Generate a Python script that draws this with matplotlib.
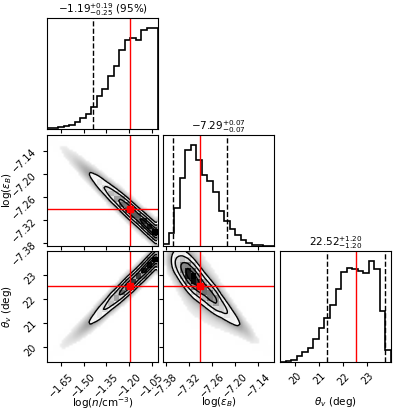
import numpy as np
import matplotlib
matplotlib.use("Agg")
import matplotlib.pyplot as plt
from matplotlib.colors import LinearSegmentedColormap

# axis ranges (min / max of the samples)
logn_range = [-1.7425, -1.008]
epsb_range = [-7.387, -7.099]
theta_range = [19.37, 23.99]

logn_ticks = [-1.65, -1.50, -1.35, -1.20, -1.05]
epsb_ticks = [-7.38, -7.32, -7.26, -7.20, -7.14]
theta_ticks = [20, 21, 22, 23]

labels = [r"log($n$/cm$^{-3}$)", r"log($\epsilon_B$)", r"$\theta_v$ (deg)"]
titles = [r"$-1.19^{+0.19}_{-0.25}$ (95%)", r"$-7.29^{+0.07}_{-0.07}$",
          r"$22.52^{+1.20}_{-1.20}$"]

truths = [-1.19, -7.29, 22.52]
q_lo = [-1.44, -7.36, 21.32]
q_hi = [-1.00, -7.22, 23.72]

# 1d marginals, 20 bins each
hist_logn = [2, 3, 5, 9, 13, 22, 33, 46, 66, 98, 120, 160, 189, 237, 267,
             273, 265, 295, 302, 302]
hist_epsb = [5, 37, 112, 200, 283, 296, 252, 207, 190, 159, 104, 74, 49, 31,
             17, 10, 4, 2, 1, 1]
hist_theta = [1, 3, 7, 19, 29, 41, 67, 101, 130, 169, 217, 269, 279, 276,
              272, 264, 300, 277, 152, 37]

# 2d panels: centre and spread of the row parameter in each column bin
ridge_epsb_logn = [-7.108, -7.120, -7.133, -7.146, -7.159, -7.172, -7.185,
                   -7.198, -7.211, -7.224, -7.237, -7.250, -7.262, -7.275,
                   -7.288, -7.301, -7.314, -7.327, -7.340, -7.353]
spread_epsb_logn = 0.014

ridge_theta_logn = [19.66, 19.84, 20.03, 20.21, 20.40, 20.58, 20.78, 20.98,
                    21.20, 21.42, 21.64, 21.88, 22.08, 22.30, 22.52, 22.72,
                    22.95, 23.18, 23.42, 23.65]
spread_theta_logn = 0.22

ridge_theta_epsb = [23.65, 23.60, 23.48, 23.30, 23.08, 22.85, 22.62, 22.38,
                    22.15, 21.93, 21.70, 21.47, 21.24, 21.02, 20.80, 20.58,
                    20.37, 20.16, 19.95, 19.75]
spread_theta_epsb = [0.32, 0.34, 0.36, 0.38, 0.38, 0.38, 0.37, 0.36, 0.34,
                     0.32, 0.30, 0.28, 0.26, 0.24, 0.23, 0.22, 0.22, 0.21,
                     0.21, 0.21]

ranges = [logn_range, epsb_range, theta_range]
ticks = [logn_ticks, epsb_ticks, theta_ticks]
hists = [hist_logn, hist_epsb, hist_theta]

density_cmap = LinearSegmentedColormap.from_list("dens", ["k", (1, 1, 1, 0)])
FS = 7
WING_X = 2.0     # how much broader the wing around each ridge is


def density(xr, yr, hist, centers, spread, wing_share, n=60):
    xe = np.linspace(xr[0], xr[1], n + 1)
    ye = np.linspace(yr[0], yr[1], n + 1)
    xc = 0.5 * (xe[1:] + xe[:-1])
    yc = 0.5 * (ye[1:] + ye[:-1])
    hb = np.linspace(xr[0], xr[1], len(hist) + 1)
    hbc = 0.5 * (hb[1:] + hb[:-1])
    m = np.interp(xc, hbc, hist)[:, None]
    c = np.interp(xc, hbc, centers)[:, None]
    s = np.interp(xc, hbc, np.broadcast_to(spread, len(hist)))[:, None]
    dy = yc[None, :] - c
    core = np.exp(-0.5 * (dy / s) ** 2) / s
    wing = np.exp(-0.5 * (dy / (WING_X * s)) ** 2) / (WING_X * s)
    D = m * ((1 - wing_share) * core + wing_share * wing)
    return xe, ye, xc, yc, D


def contour_levels(D):
    lv = 1 - np.exp(-0.5 * np.arange(0.5, 2.1, 0.5) ** 2)
    f = np.sort(D.ravel())[::-1]
    cs = np.cumsum(f)
    cs /= cs[-1]
    V = [f[cs <= v][-1] for v in lv]
    return np.sort(V)


def draw_2d(ax, xr, yr, hist, centers, spread, wing_share):
    xe, ye, xc, yc, D = density(xr, yr, hist, centers, spread, wing_share)
    V = contour_levels(D)
    # cloud of samples outside the contours
    halo = np.clip(0.6 * (D / V[0]) ** 0.8, 0, 0.6)
    halo[D < V[0] * 0.1] = 0
    rgba = np.zeros(D.T.shape + (4,))
    rgba[..., :3] = 0.3
    rgba[..., 3] = halo.T
    ax.imshow(rgba, extent=[xe[0], xe[-1], ye[0], ye[-1]], origin="lower",
              aspect="auto", interpolation="bilinear")
    ax.contourf(xc, yc, D.T, [V[0], D.max()], colors="white", antialiased=False)
    Dc = D.reshape(20, 3, 20, 3).mean(axis=(1, 3))
    ax.pcolormesh(xe[::3], ye[::3], Dc.max() - Dc.T, cmap=density_cmap)
    ax.contour(xc, yc, D.T, V, colors="k", linewidths=1.0)


def tick_text(t, k):
    s = f"{t:.2f}" if k < 2 else f"{t:d}"
    return s.replace("-", "\u2212")


fig = plt.figure(figsize=(3.97, 4.11), dpi=100)
W, H = 397.0, 411.0
lefts = [47, 163, 280]
tops = [18, 135, 251]
size = 111

axes = {}
for i in range(3):
    for j in range(i + 1):
        ax = fig.add_axes([lefts[j] / W, 1 - (tops[i] + size) / H, size / W, size / H])
        axes[(i, j)] = ax

# diagonal: marginals
for k in range(3):
    ax = axes[(k, k)]
    edges = np.linspace(ranges[k][0], ranges[k][1], len(hists[k]) + 1)
    mids = 0.5 * (edges[1:] + edges[:-1])
    ax.hist(mids, bins=edges, weights=hists[k], histtype="step", color="k", lw=1.2)
    ax.axvline(q_lo[k], color="k", ls="--", lw=1)
    ax.axvline(q_hi[k], color="k", ls="--", lw=1)
    ax.axvline(truths[k], color="r", lw=1)
    ax.set_xlim(ranges[k])
    ax.set_ylim(0, 1.1 * max(hists[k]))
    ax.set_yticks([])
    ax.set_title(titles[k], fontsize=FS + 0.5, pad=3)

# off-diagonal panels
draw_2d(axes[(1, 0)], logn_range, epsb_range, hist_logn, ridge_epsb_logn,
        spread_epsb_logn, 0.05)
draw_2d(axes[(2, 0)], logn_range, theta_range, hist_logn, ridge_theta_logn,
        spread_theta_logn, 0.05)
draw_2d(axes[(2, 1)], epsb_range, theta_range, hist_epsb, ridge_theta_epsb,
        spread_theta_epsb, 0.2)

for (i, j), ax in axes.items():
    if i != j:
        ax.set_xlim(ranges[j])
        ax.set_ylim(ranges[i])
        ax.axvline(truths[j], color="r", lw=1)
        ax.axhline(truths[i], color="r", lw=1)
        ax.plot(truths[j], truths[i], "s", color="r", ms=5)
        ax.set_yticks(ticks[i])
        if j == 0:
            ax.set_yticklabels([tick_text(t, i) for t in ticks[i]],
                               rotation=45, fontsize=FS)
            ax.set_ylabel(labels[i], fontsize=FS + 0.5)
            ax.yaxis.set_label_coords(-0.3, 0.5)
        else:
            ax.set_yticklabels([])
    ax.set_xticks(ticks[j])
    if i == 2:
        ax.set_xticklabels([tick_text(t, j) for t in ticks[j]],
                           rotation=45, fontsize=FS)
        ax.set_xlabel(labels[j], fontsize=FS + 0.5)
        ax.xaxis.set_label_coords(0.5, -0.3)
    else:
        ax.set_xticklabels([])
    ax.tick_params(length=3, width=0.8)

fig.savefig("out.png", dpi=100)
